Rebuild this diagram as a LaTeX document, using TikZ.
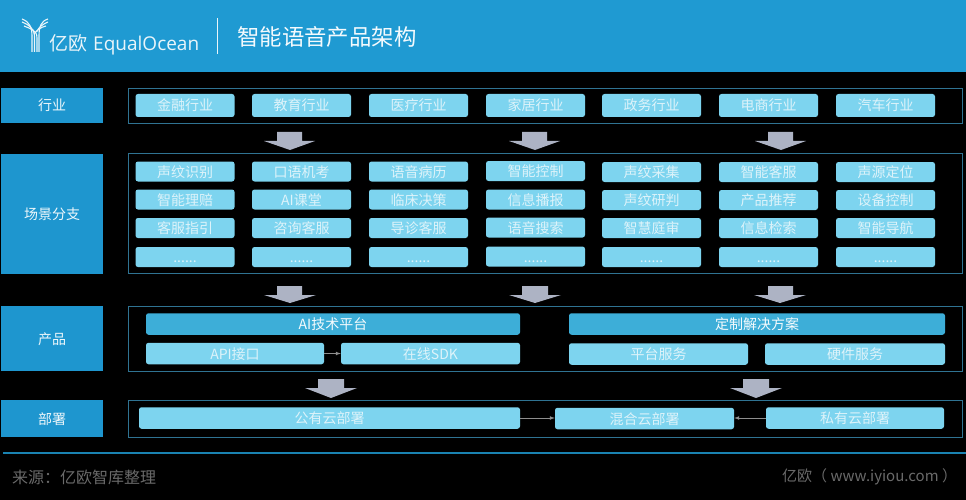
\documentclass[tikz,border=0pt]{standalone}
\usepackage{fontspec}
\setmainfont{Noto Sans CJK SC}
\newfontfamily\logofont{Open Sans}
\definecolor{headblue}{HTML}{1F9AD2}
\definecolor{sideblue}{HTML}{1E96CF}
\definecolor{pillblue}{HTML}{7DD4EF}
\definecolor{deepblue}{HTML}{3DAED8}
\definecolor{pilltext}{HTML}{DDF3FA}
\definecolor{framecol}{HTML}{2F7392}
\definecolor{flowgrey}{HTML}{ADB3C4}
\definecolor{linkgrey}{HTML}{8E8E8E}
\definecolor{footgrey}{HTML}{6A6A6A}
\tikzset{
	sidebox/.style={fill=sideblue, text=white!92!sideblue, inner sep=0pt, minimum width=102pt, text height=13pt, text depth=2pt, font=\fontsize{14}{14}\selectfont},
	framebox/.style={draw=framecol, line width=0.8pt},
	pill/.style={fill=pillblue, text=pilltext, rounded corners=2.5pt, inner sep=0pt, minimum width=99pt, minimum height=20pt, text height=13pt, text depth=2pt, font=\fontsize{14}{14}\selectfont},
	widepill/.style={pill, minimum width=#1, minimum height=21.5pt},
	deeppill/.style={widepill=#1, fill=deepblue, text=white!95!deepblue},
	tallpill/.style={pill, minimum height=23pt},
	flow/.style={fill=flowgrey},
	link/.style={draw=linkgrey, line width=0.7pt, -latex},
	logoline/.style={draw=white!90!headblue, line width=1.1pt},
}

\begin{document}
\begin{tikzpicture}[x=1pt,y=-1pt]
	\useasboundingbox (0,0) rectangle (966,500);
	\fill[black] (0,0) rectangle (966,500);
	\fill[headblue] (0,0) rectangle (966,72);

	\draw[logoline] (22,19) .. controls (30,22) and (32,28) .. (32,36) -- (32,52);
	\draw[logoline] (22,22) .. controls (29,25) and (34,28) .. (34.5,36) -- (34.5,52);
	\draw[logoline] (24,26) .. controls (31,29) and (37,30) .. (37,38) -- (37,52);
	\draw[logoline] (48,19) .. controls (41,21) and (39,27) .. (39,36) -- (39,52);
	\draw[logoline] (48,22) .. controls (43,24) and (39,27) .. (36.5,32);
	\draw[logoline] (46,26) .. controls (41,27) and (37,30) .. (34,34);
	\node[text=white!90!headblue, font=\fontsize{19}{19}\selectfont, anchor=west, inner sep=0pt] (logocn) at (49,43) {亿欧};
	\node[text=white!90!headblue, font=\logofont\fontsize{19}{19}\selectfont, anchor=west, inner sep=0pt] (logoen) at (93,46) {EqualOcean};
	\draw[white!90!headblue, line width=0.9pt] (217.5,18) -- (217.5,54);
	\node[text=white!95!headblue, font=\fontsize{22.4}{22.4}\selectfont, anchor=west, inner sep=0pt] (title) at (237,37) {智能语音产品架构};

	\node[sidebox, minimum height=35pt] (hangye) at (52,105.5) {行业};
	\node[sidebox, minimum height=120pt] (changjing) at (52,214) {场景分支};
	\node[sidebox, minimum height=65pt] (chanpin) at (52,338.5) {产品};
	\node[sidebox, minimum height=37pt] (bushu) at (52,418.5) {部署};

	\draw[framebox] (128,88) rectangle (962,123);
	\draw[framebox] (128,153.5) rectangle (962,273.5);
	\draw[framebox] (128,306) rectangle (962,371);
	\draw[framebox] (128,400) rectangle (962,437);

	\node[tallpill] (jinrong) at (185,105.5) {金融行业};
	\node[tallpill] (jiaoyu) at (301.5,105.5) {教育行业};
	\node[tallpill] (yiliao) at (418.5,105.5) {医疗行业};
	\node[tallpill] (jiaju) at (535.5,105.5) {家居行业};
	\node[tallpill] (zhengwu) at (651.5,105.5) {政务行业};
	\node[tallpill] (dianshang) at (768.5,105.5) {电商行业};
	\node[tallpill] (qiche) at (885.5,105.5) {汽车行业};

	\fill[flow] (277,132) -- (302,132) -- (302,141) -- (315,141) -- (290,150) -- (264,141) -- (277,141) -- cycle;
	\fill[flow] (522,132) -- (547,132) -- (547,141) -- (560,141) -- (535,150) -- (509,141) -- (522,141) -- cycle;
	\fill[flow] (768,132) -- (793,132) -- (793,141) -- (806,141) -- (781,150) -- (755,141) -- (768,141) -- cycle;

	\node[pill] (a1) at (185,171.5) {声纹识别};
	\node[pill] (a2) at (185,199.5) {智能理赔};
	\node[pill] (a3) at (185,228) {客服指引};
	\node[pill] (a4) at (185,257) {......};
	\node[pill] (b1) at (301.5,171.5) {口语机考};
	\node[pill] (b2) at (301.5,199.5) {AI课堂};
	\node[pill] (b3) at (301.5,228) {咨询客服};
	\node[pill] (b4) at (301.5,257) {......};
	\node[pill] (c1) at (418.5,171.5) {语音病历};
	\node[pill] (c2) at (418.5,199.5) {临床决策};
	\node[pill] (c3) at (418.5,228) {导诊客服};
	\node[pill] (c4) at (418.5,257) {......};
	\node[pill] (d1) at (535.5,171) {智能控制};
	\node[pill] (d2) at (535.5,199.5) {信息播报};
	\node[pill] (d3) at (535.5,227.5) {语音搜索};
	\node[pill] (d4) at (535.5,256.5) {......};
	\node[pill] (e1) at (651.5,172) {声纹采集};
	\node[pill] (e2) at (651.5,200) {声纹研判};
	\node[pill] (e3) at (651.5,228) {智慧庭审};
	\node[pill] (e4) at (651.5,257) {......};
	\node[pill] (f1) at (768.5,172) {智能客服};
	\node[pill] (f2) at (768.5,200) {产品推荐};
	\node[pill] (f3) at (768.5,228) {信息检索};
	\node[pill] (f4) at (768.5,257) {......};
	\node[pill] (g1) at (885.5,172) {声源定位};
	\node[pill] (g2) at (885.5,200) {设备控制};
	\node[pill] (g3) at (885.5,228) {智能导航};
	\node[pill] (g4) at (885.5,257) {......};

	\fill[flow] (277,286) -- (302,286) -- (302,295) -- (316,295) -- (290,303) -- (264,295) -- (277,295) -- cycle;
	\fill[flow] (522,286) -- (548,286) -- (548,295) -- (561,295) -- (535,303) -- (509,295) -- (522,295) -- cycle;
	\fill[flow] (768,286) -- (793,286) -- (793,295) -- (806,295) -- (780,303) -- (754,295) -- (768,295) -- cycle;

	\node[deeppill=374pt] (aiplat) at (333,324) {AI技术平台};
	\node[deeppill=376pt] (dingzhi) at (757,324) {定制解决方案};
	\node[widepill=178pt] (api) at (235,353.5) {API接口};
	\node[widepill=179pt] (sdk) at (430.5,353.5) {在线SDK};
	\node[widepill=179pt] (pingtai) at (658.5,354) {平台服务};
	\node[widepill=180pt] (yingjian) at (855,354) {硬件服务};
	\draw[link] (api) -- (sdk);

	\fill[flow] (318,379) -- (344,379) -- (344,388) -- (357,388) -- (331,398) -- (305,388) -- (318,388) -- cycle;
	\fill[flow] (743,379) -- (769,379) -- (769,388) -- (782,388) -- (756,398) -- (730,388) -- (743,388) -- cycle;

	\node[widepill=381pt] (gongyou) at (329.5,418) {公有云部署};
	\node[widepill=179pt] (hunhe) at (644.5,418.5) {混合云部署};
	\node[widepill=178pt] (siyou) at (855,418) {私有云部署};
	\draw[link] (gongyou.east) -- (hunhe.west |- gongyou.east);
	\draw[link] (siyou.west) -- (hunhe.east |- siyou.west);

	\draw[headblue!85!black, line width=1.4pt] (3,453) -- (966,453);
	\node[text=footgrey, font=\fontsize{16}{16}\selectfont, anchor=west, inner sep=0pt] (laiyuan) at (12,477) {来源：亿欧智库整理};
	\node[text=footgrey, font=\fontsize{15}{15}\selectfont, anchor=west, inner sep=0pt] (wangzhi) at (782,477) {亿欧（ www.iyiou.com ）};
\end{tikzpicture}
\end{document}
